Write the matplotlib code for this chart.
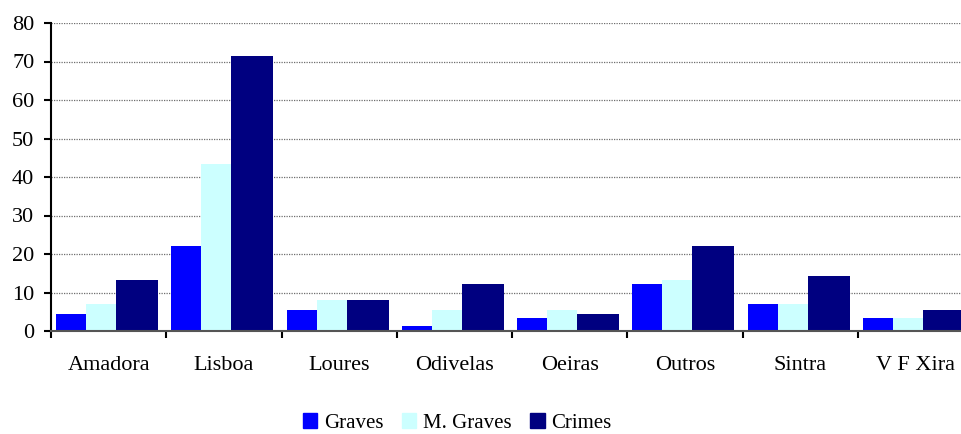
import matplotlib
matplotlib.use("Agg")
import matplotlib.pyplot as plt
from matplotlib.patches import Patch
import numpy as np

# values
categories = ["Amadora", "Lisboa", "Loures", "Odivelas", "Oeiras", "Outros", "Sintra", "V F Xira"]
graves = [4.4, 22.1, 5.5, 1.3, 3.4, 12.2, 7.0, 3.4]
m_graves = [7.0, 43.4, 8.1, 5.5, 5.5, 13.2, 7.0, 3.4]
crimes = [13.2, 71.4, 8.1, 12.2, 4.4, 22.1, 14.3, 5.5]
yticks = [0, 10, 20, 30, 40, 50, 60, 70, 80]

plt.rcParams['font.family'] = ['Liberation Serif', 'DejaVu Serif']

fig = plt.figure(figsize=(9.61, 4.34), dpi=100)
ax = fig.add_axes([51 / 961, 1 - 331 / 434, 922 / 961, 308 / 434])

x = np.arange(len(categories))
left = x - 0.5
ax.bar(left + 0.045, graves, width=0.26, align='edge', color='#0000FF', label='Graves', zorder=2)
ax.bar(left + 0.305, m_graves, width=0.26, align='edge', color='#CCFFFF', label='M. Graves', zorder=2)
ax.bar(left + 0.565, crimes, width=0.365, align='edge', color='#000080', label='Crimes', zorder=2)

ax.set_xlim(-0.5, len(categories) - 0.5)
ax.set_ylim(0, 80)
ax.set_yticks(yticks)
ax.yaxis.grid(True, linestyle=(0, (1, 1)), color='#6e6e6e', linewidth=0.9, zorder=0)

ax.set_xticks(x)
ax.set_xticklabels(categories)
ax.set_xticks(np.arange(len(categories) + 1) - 0.5, minor=True)
ax.tick_params(axis='x', which='major', length=0, pad=18, labelsize=16)
ax.tick_params(axis='x', which='minor', length=5, width=1.5, direction='out', color='black')
ax.tick_params(axis='y', length=5, width=1.5, direction='out', pad=7, labelsize=16)

for s in ['top', 'right']:
    ax.spines[s].set_visible(False)
ax.spines['left'].set_linewidth(1.5)
ax.spines['bottom'].set_linewidth(1.5)
ax.spines['bottom'].set_color('#555555')
ax.spines['bottom'].set_zorder(3)

handles = [Patch(color='#0000FF'), Patch(color='#CCFFFF'), Patch(color='#000080')]
fig.legend(handles, ['Graves', 'M. Graves', 'Crimes'], loc='center', bbox_to_anchor=(457 / 961, 1 - 423 / 434),
           ncol=3, frameon=False, fontsize=15, handlelength=0.7, handleheight=0.7,
           handletextpad=0.3, columnspacing=0.9, borderaxespad=0)

fig.savefig('out.png', dpi=100)
